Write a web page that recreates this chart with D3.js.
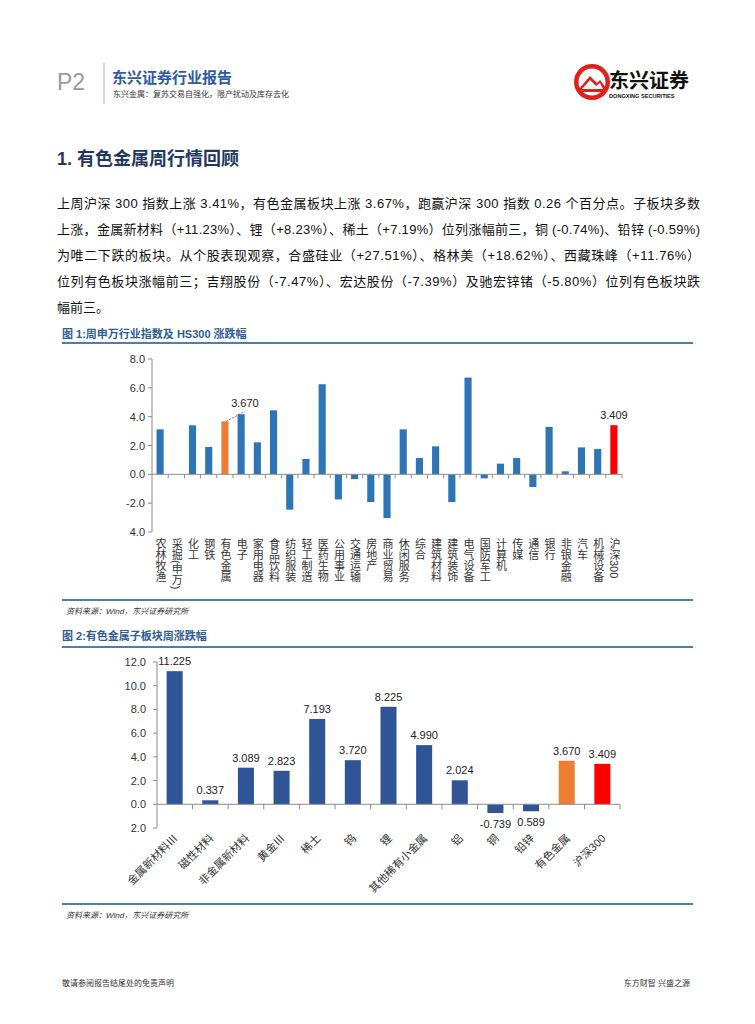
<!DOCTYPE html>
<html>
<head>
<meta charset="utf-8">
<script src="https://cdn.jsdelivr.net/npm/d3@7"></script>
<style>
  html,body{margin:0;padding:0;background:#fff;}
  svg{display:block;}
  text{font-family:"Liberation Sans","Noto Sans CJK SC",sans-serif;}
</style>
</head>
<body>
<svg id="page" width="755" height="1024"></svg>
<script>
// ---------- data ----------
const industries = ["农林牧渔","采掘(申万)","化工","钢铁","有色金属","电子","家用电器","食品饮料","纺织服装","轻工制造","医药生物","公用事业","交通运输","房地产","商业贸易","休闲服务","综合","建筑材料","建筑装饰","电气设备","国防军工","计算机","传媒","通信","银行","非银金融","汽车","机械设备","沪深300"];
const industryValues = [3.12,0,3.40,1.90,3.670,4.17,2.22,4.44,-2.45,1.07,6.25,-1.74,-0.33,-1.92,-3.03,3.12,1.13,1.94,-1.92,6.71,-0.28,0.74,1.13,-0.88,3.29,0.21,1.87,1.76,3.409];
const chart1Ticks = [8,6,4,2,0,-2,-4];
const chart1TickLabels = ["8.0","6.0","4.0","2.0","0.0","-2.0","4.0"];

const subSectors = ["金属新材料Ⅲ","磁性材料","非金属新材料","黄金Ⅲ","稀土","钨","锂","其他稀有小金属","铝","铜","铅锌","有色金属","沪深300"];
const subValues = [11.225,0.337,3.089,2.823,7.193,3.720,8.225,4.990,2.024,-0.739,-0.589,3.670,3.409];
const subValueLabels = ["11.225","0.337","3.089","2.823","7.193","3.720","8.225","4.990","2.024","-0.739","0.589","3.670","3.409"];
const chart2Ticks = [12,10,8,6,4,2,0,-2];
const chart2TickLabels = ["12.0","10.0","8.0","6.0","4.0","2.0","0.0","2.0"];

const paragraphLines = [
  "上周沪深 300 指数上涨 3.41%，有色金属板块上涨 3.67%，跑赢沪深 300 指数 0.26 个百分点。子板块多数",
  "上涨，金属新材料（+11.23%）、锂（+8.23%）、稀土（+7.19%）位列涨幅前三，铜 (-0.74%)、铅锌 (-0.59%)",
  "为唯二下跌的板块。从个股表现观察，合盛硅业（+27.51%）、格林美（+18.62%）、西藏珠峰（+11.76%）",
  "位列有色板块涨幅前三；吉翔股份（-7.47%）、宏达股份（-7.39%）及驰宏锌锗（-5.80%）位列有色板块跌",
  "幅前三。"
];

// ---------- page ----------
const svg = d3.select("#page");
const BLUE_T = "#2E5C96", LINE = "#4F7DB3";

// header
svg.append("text").attr("x",57).attr("y",90).attr("font-size",23).attr("fill","#9a9a9a").text("P2");
svg.append("line").attr("x1",104).attr("x2",104).attr("y1",63).attr("y2",104).attr("stroke","#bdbdbd").attr("stroke-width",1.2);
svg.append("text").attr("x",112).attr("y",83).attr("font-size",15).attr("font-weight","bold").attr("fill","#2F5BA0").text("东兴证券行业报告");
svg.append("text").attr("x",113).attr("y",97).attr("font-size",8).attr("fill","#333").text("东兴金属：复苏交易自强化，限产扰动及库存去化");
// logo
const lg = svg.append("g");
lg.append("circle").attr("cx",592).attr("cy",82).attr("r",18).attr("fill","#E0201B");
lg.append("circle").attr("cx",592).attr("cy",82).attr("r",13.5).attr("fill","#fff");
lg.append("path").attr("d","M578,90 L590,76 L597,83 L600,80 L606,88 L606,92 L578,92 Z").attr("fill","#E0201B");
lg.append("path").attr("d","M582,89 L590,80 L596,86 L600,83 L603,89 Z").attr("fill","#fff");
svg.append("text").attr("x",609).attr("y",88).attr("font-size",20).attr("font-weight","bold").attr("fill","#111").attr("font-family","Noto Sans CJK SC").text("东兴证券");
svg.append("text").attr("x",609).attr("y",98).attr("font-size",5.6).attr("font-weight","bold").attr("fill","#111").text("DONGXING SECURITIES");

// section heading
svg.append("text").attr("x",57).attr("y",165).attr("font-size",18).attr("font-weight","bold").attr("fill","#1F3864").text("1. 有色金属周行情回顾");

// paragraph
paragraphLines.forEach((t,i)=>{
  const tx = svg.append("text").attr("x",57).attr("y",208 + i*26).attr("font-size",13).attr("fill","#111").text(t);
  if(i < paragraphLines.length-1) tx.attr("textLength",643).attr("lengthAdjust","spacing");
});

// ---------- chart 1 ----------
svg.append("text").attr("x",62).attr("y",338).attr("font-size",11).attr("font-weight","bold").attr("fill",BLUE_T).text("图 1:周申万行业指数及 HS300 涨跌幅");
svg.append("line").attr("x1",62).attr("x2",693).attr("y1",343).attr("y2",343).attr("stroke",LINE).attr("stroke-width",2);

const x1 = d3.scaleBand().domain(industries).range([152,622]).paddingInner(0.56).paddingOuter(0.28);
const y1 = d3.scaleLinear().domain([-4,8]).range([532,359]);
const g1 = svg.append("g");
// y axis
g1.append("line").attr("x1",152).attr("x2",152).attr("y1",y1(8)).attr("y2",y1(-4)).attr("stroke","#8c8c8c");
chart1Ticks.forEach((v,i)=>{
  g1.append("line").attr("x1",148).attr("x2",152).attr("y1",y1(v)).attr("y2",y1(v)).attr("stroke","#8c8c8c");
  g1.append("text").attr("x",145).attr("y",y1(v)+4).attr("text-anchor","end").attr("font-size",11).attr("fill","#333").text(chart1TickLabels[i]);
});
// bars
g1.selectAll("rect.b").data(industries).join("rect")
  .attr("x",d=>x1(d)).attr("width",x1.bandwidth())
  .attr("y",(d,i)=>y1(Math.max(0,industryValues[i])))
  .attr("height",(d,i)=>Math.abs(y1(industryValues[i])-y1(0)))
  .attr("fill",(d,i)=> d==="有色金属" ? "#ED7D31" : d==="沪深300" ? "#FF0000" : "#2E75B6");
// x axis
g1.append("line").attr("x1",152).attr("x2",622).attr("y1",y1(0)).attr("y2",y1(0)).attr("stroke","#8c8c8c");
const gap1 = (x1.step()-x1.bandwidth())/2;
industries.forEach((d,i)=>{
  if(i>0) g1.append("line").attr("x1",x1(d)-gap1).attr("x2",x1(d)-gap1).attr("y1",y1(0)).attr("y2",y1(0)+4).attr("stroke","#8c8c8c");
});
g1.append("line").attr("x1",622).attr("x2",622).attr("y1",y1(0)).attr("y2",y1(0)+4).attr("stroke","#8c8c8c");
// category labels (vertical)
g1.selectAll("text.c").data(industries).join("text")
  .attr("x",d=>x1(d)+x1.bandwidth()/2).attr("y",538)
  .attr("font-size",11).attr("fill","#333")
  .style("writing-mode","vertical-rl").attr("text-anchor","start")
  .attr("font-family","Noto Sans CJK SC")
  .text(d=>d);
// data labels
{
  const i = industries.indexOf("有色金属");
  const bx = x1(industries[i])+x1.bandwidth()/2, by = y1(industryValues[i]);
  g1.append("line").attr("x1",bx+1).attr("y1",by).attr("x2",bx+20).attr("y2",by-10).attr("stroke","#555").attr("stroke-width",0.8).attr("stroke-dasharray","2,1.5");
  g1.append("text").attr("x",bx+20).attr("y",by-14).attr("text-anchor","middle").attr("font-size",11).attr("fill","#222").text(industryValues[i].toFixed(3));
  const j = industries.indexOf("沪深300");
  g1.append("text").attr("x",x1(industries[j])+x1.bandwidth()/2).attr("y",y1(industryValues[j])-6).attr("text-anchor","middle").attr("font-size",11).attr("fill","#222").text(industryValues[j].toFixed(3));
}
// source
svg.append("line").attr("x1",62).attr("x2",693).attr("y1",600).attr("y2",600).attr("stroke",LINE).attr("stroke-width",2);
svg.append("text").attr("x",66).attr("y",614).attr("font-size",8).attr("font-style","italic").attr("fill","#333").text("资料来源：Wind，东兴证券研究所");

// ---------- chart 2 ----------
svg.append("text").attr("x",62).attr("y",640).attr("font-size",11).attr("font-weight","bold").attr("fill",BLUE_T).text("图 2:有色金属子板块周涨跌幅");
svg.append("line").attr("x1",62).attr("x2",693).attr("y1",647).attr("y2",647).attr("stroke",LINE).attr("stroke-width",2);

const x2 = d3.scaleBand().domain(subSectors).range([157,620]).paddingInner(0.55).paddingOuter(0.27);
const y2 = d3.scaleLinear().domain([-2,12]).range([828,662]);
const g2 = svg.append("g");
g2.append("line").attr("x1",157).attr("x2",157).attr("y1",y2(12)).attr("y2",y2(-2)).attr("stroke","#8c8c8c");
chart2Ticks.forEach((v,i)=>{
  g2.append("line").attr("x1",153).attr("x2",157).attr("y1",y2(v)).attr("y2",y2(v)).attr("stroke","#8c8c8c");
  g2.append("text").attr("x",146).attr("y",y2(v)+4).attr("text-anchor","end").attr("font-size",11).attr("fill","#333").text(chart2TickLabels[i]);
});
g2.selectAll("rect.b").data(subSectors).join("rect")
  .attr("x",d=>x2(d)).attr("width",x2.bandwidth())
  .attr("y",(d,i)=>y2(Math.max(0,subValues[i])))
  .attr("height",(d,i)=>Math.abs(y2(subValues[i])-y2(0)))
  .attr("fill",(d,i)=> d==="有色金属" ? "#ED7D31" : d==="沪深300" ? "#FF0000" : "#2F5597");
g2.append("line").attr("x1",157).attr("x2",620).attr("y1",y2(0)).attr("y2",y2(0)).attr("stroke","#8c8c8c");
const gap2 = (x2.step()-x2.bandwidth())/2;
subSectors.forEach((d,i)=>{
  if(i>0) g2.append("line").attr("x1",x2(d)-gap2).attr("x2",x2(d)-gap2).attr("y1",y2(0)).attr("y2",y2(0)+5).attr("stroke","#8c8c8c");
});
g2.append("line").attr("x1",620).attr("x2",620).attr("y1",y2(0)).attr("y2",y2(0)+5).attr("stroke","#8c8c8c");
// value labels
g2.selectAll("text.v").data(subSectors).join("text")
  .attr("x",d=>x2(d)+x2.bandwidth()/2)
  .attr("y",(d,i)=> subValues[i]>=0 ? y2(subValues[i])-6 : y2(subValues[i])+15)
  .attr("text-anchor","middle").attr("font-size",11).attr("fill","#222")
  .text((d,i)=>subValueLabels[i]);
// category labels rotated
g2.selectAll("text.c").data(subSectors).join("text")
  .attr("transform",d=>`translate(${x2(d)+x2.bandwidth()/2+4},${839}) rotate(-45)`)
  .attr("text-anchor","end").attr("font-size",11).attr("fill","#333")
  .attr("font-family","Noto Sans CJK SC")
  .text(d=>d);
svg.append("line").attr("x1",62).attr("x2",693).attr("y1",904).attr("y2",904).attr("stroke",LINE).attr("stroke-width",2);
svg.append("text").attr("x",66).attr("y",918).attr("font-size",8).attr("font-style","italic").attr("fill","#333").text("资料来源：Wind，东兴证券研究所");

// footer
svg.append("text").attr("x",62).attr("y",986).attr("font-size",8).attr("fill","#333").text("敬请参阅报告结尾处的免责声明");
svg.append("text").attr("x",690).attr("y",986).attr("text-anchor","end").attr("font-size",8).attr("fill","#333").text("东方财智 兴盛之源");
</script>
</body>
</html>
